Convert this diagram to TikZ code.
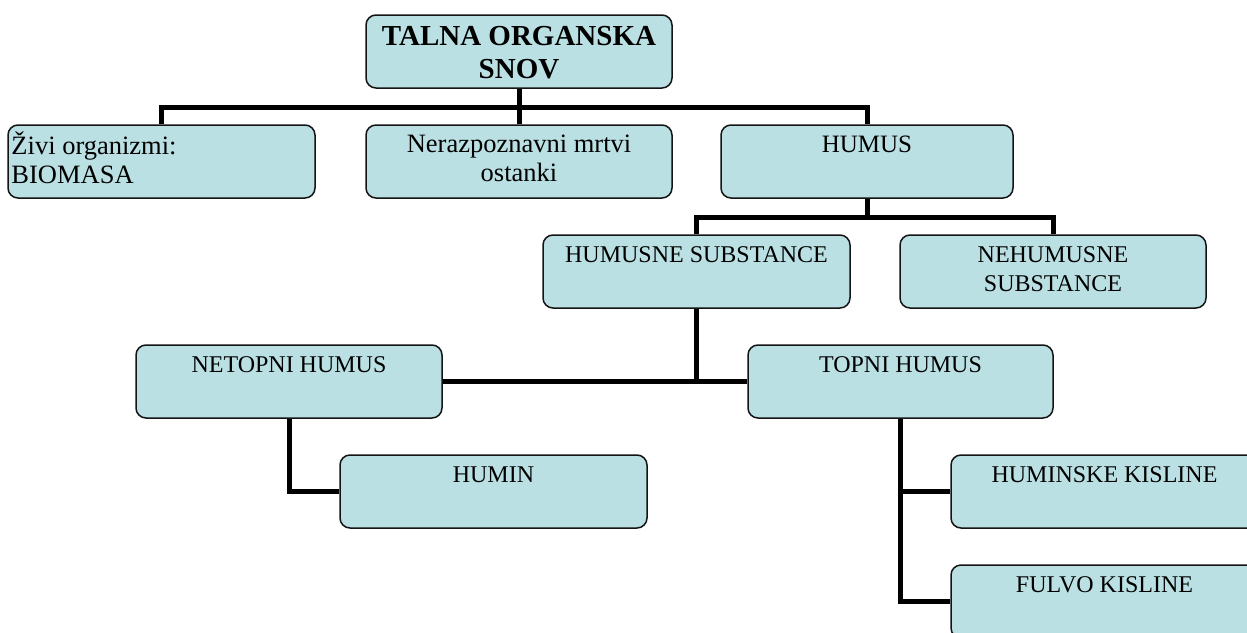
\documentclass[tikz,border=0pt]{standalone}
\usepackage{fontspec}
\setmainfont{Liberation Serif}
\definecolor{boxfill}{RGB}{186,224,227}
\definecolor{boxline}{RGB}{20,20,20}
\tikzset{
  box/.style={draw=boxline, line width=1.5pt, fill=boxfill, rounded corners=10pt,
    minimum width=#1, minimum height=73pt, inner sep=0pt},
  box/.default=306pt,
  lbl/.style={anchor=north, inner sep=0pt, align=center, font=\fontsize{24}{29}\selectfont},
  biglbl/.style={lbl, font=\fontsize{26.5}{29.5}\selectfont},
  conn/.style={line width=5pt, black, line join=miter}
}
\newcommand{\fl}{\rule{0pt}{22pt}}
\begin{document}
\begin{tikzpicture}[x=1pt,y=-1pt]
\clip (0,0) rectangle (1247,632);
\fill[white] (0,0) rectangle (1247,632);
% boxes
\node[box] (talna) at (519,51.5) {};
\node[box=307pt] (ziv) at (161.5,161.5) {};
\node[box] (neraz) at (519,161.5) {};
\node[box=292pt] (humus) at (867,161.5) {};
\node[box=307pt] (humusne) at (696.5,271.5) {};
\node[box] (nehum) at (1053,271.5) {};
\node[box] (netopni) at (289,381.5) {};
\node[box=305pt] (topni) at (900.5,381.5) {};
\node[box=307pt] (humin) at (493.5,491.5) {};
\node[box=307pt] (huminske) at (1104.5,491.5) {};
\node[box=307pt] (fulvo) at (1104.5,601.5) {};
% texts
\node[lbl, font=\fontsize{29}{33}\selectfont\bfseries] (t-talna) at ([yshift=-6pt]talna.north) {\rule{0pt}{25pt}TALNA ORGANSKA\\SNOV};
\node[biglbl, anchor=north west, align=left] (t-ziv) at ([xshift=4pt,yshift=-7pt]ziv.north west) {\rule{0pt}{23pt}Živi organizmi:\\BIOMASA};
\node[biglbl] (t-neraz) at ([yshift=-5pt]neraz.north) {\rule{0pt}{23pt}Nerazpoznavni mrtvi\\ostanki};
\node[lbl, font=\fontsize{25}{29}\selectfont] (t-humus) at ([yshift=-6pt]humus.north) {\fl HUMUS};
\node[lbl] (t-humusne) at ([yshift=-6pt]humusne.north) {\fl HUMUSNE SUBSTANCE};
\node[lbl] (t-nehum) at ([yshift=-6pt]nehum.north) {\fl NEHUMUSNE\\SUBSTANCE};
\node[lbl] (t-netopni) at ([yshift=-6pt]netopni.north) {\fl NETOPNI HUMUS};
\node[lbl] (t-topni) at ([yshift=-6pt]topni.north) {\fl TOPNI HUMUS};
\node[lbl] (t-humin) at ([yshift=-6pt]humin.north) {\fl HUMIN};
\node[lbl] (t-huminske) at ([yshift=-6pt]huminske.north) {\fl HUMINSKE KISLINE};
\node[lbl] (t-fulvo) at ([yshift=-6pt]fulvo.north) {\fl FULVO KISLINE};
% connectors
\draw[conn] (talna.south) -- ++(0,19) -| (ziv.north);
\draw[conn] (talna.south) -- ++(0,19) -| (neraz.north);
\draw[conn] (talna.south) -- ++(0,19) -| (humus.north);
\draw[conn] (humus.south) -- ++(0,19) -| (humusne.north);
\draw[conn] (humus.south) -- ++(0,19) -| (nehum.north);
\draw[conn] (netopni.east) -- (topni.west);
\draw[conn] (humusne.south) -- (humusne.south |- netopni.east);
\draw[conn] (netopni.south) |- (humin.west);
\draw[conn] (topni.south) |- (huminske.west);
\draw[conn] (topni.south) |- (fulvo.west);
\end{tikzpicture}
\end{document}
